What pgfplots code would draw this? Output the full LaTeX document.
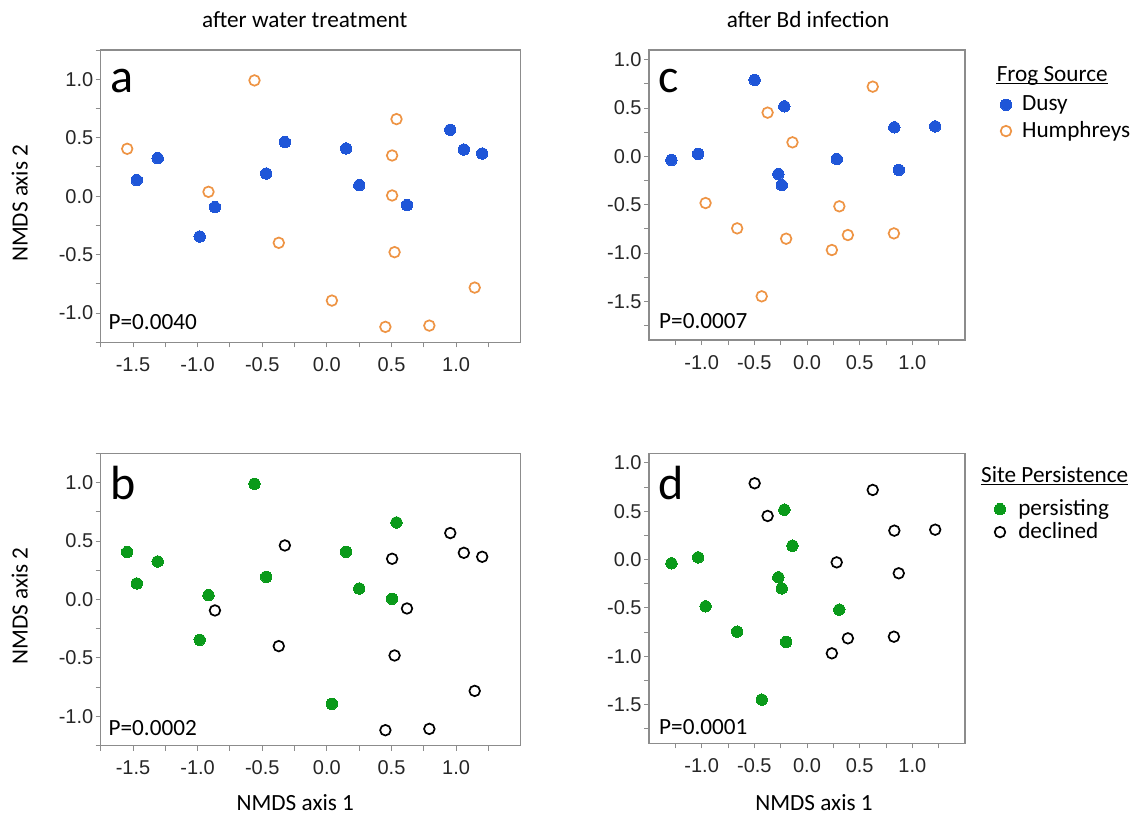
\documentclass[border=0pt]{standalone}
\usepackage{pgfplots}
\pgfplotsset{compat=1.18}
\usepackage{fontspec}
\setmainfont{Carlito}
\newfontfamily\arialfont{Liberation Sans}
\definecolor{dusy}{HTML}{1F56D8}
\definecolor{hump}{HTML}{EE9444}
\definecolor{pers}{HTML}{0A9A1A}
\definecolor{axgray}{HTML}{8C8C8C}
\newcommand{\lab}{\fontsize{11.6}{13}\selectfont}
\pgfplotsset{
 nmds/.style={
  scale only axis,
  anchor=north west,
  axis line style={draw=axgray, line width=0.6pt},
  tick align=outside,
  tick pos=left,
  major tick length=2.5pt, minor tick length=2.5pt,
  every tick/.style={draw=axgray, line width=0.5pt},
  tick label style={font=\arialfont\fontsize{10}{12}\selectfont, text=black!85},
  /pgf/number format/assume math mode=true,
  /pgf/number format/fixed,
  /pgf/number format/fixed zerofill,
  /pgf/number format/precision=1,
  xticklabel style={inner sep=0pt, yshift=-5pt},
  yticklabel style={inner sep=0pt, xshift=-1pt},
  clip=false,
  legend cell align=left,
 },
 big/.style={width=210pt, height=146.15pt, xmin=-1.75, xmax=1.5, ymin=-1.25, ymax=1.25,
   xtick={-1.5,-1,-0.5,0,0.5,1}, minor xtick={-1.75,-1.25,-0.75,-0.25,0.25,0.75,1.25},
   ytick={-1,-0.5,0,0.5,1}, minor ytick={-1.25,-0.75,-0.25,0.25,0.75,1.25}},
 small/.style={width=158pt, height=145pt, xmin=-1.5, xmax=1.5, ymin=-1.9, ymax=1.1,
   xtick={-1,-0.5,0,0.5,1}, minor xtick={-1.25,-0.75,-0.25,0.25,0.75,1.25},
   ytick={-1.5,-1,-0.5,0,0.5,1}, minor ytick={-1.75,-1.25,-0.75,-0.25,0.25,0.75}},
 fillmark/.style={only marks, mark=*, mark size=2.85pt, mark options={draw=#1, fill=#1, line width=0pt},
   legend image code/.code={\draw[##1] plot coordinates {(0pt,0pt)};}},
 openmark/.style={only marks, mark=o, mark size=2.65pt, mark options={draw=#1, line width=0.85pt},
   legend image code/.code={\draw[##1] plot coordinates {(0pt,0pt)};}},
}
\begin{document}
\begin{tikzpicture}
\useasboundingbox (0,0) rectangle (571.5pt,-408pt);
% ---------- a ----------
\begin{axis}[nmds, big, at={(50.35pt,-25pt)}]
\addplot[fillmark=dusy] coordinates {
(-1.471,0.137) (-1.309,0.325) (-0.984,-0.345) (-0.866,-0.094) (-0.469,0.194) (-0.325,0.462)
(0.149,0.408) (0.251,0.094) (0.620,-0.077) (0.955,0.568) (1.060,0.399) (1.202,0.365)};
\addplot[openmark=hump] coordinates {
(-1.545,0.405) (-0.916,0.037) (-0.560,0.990) (-0.372,-0.399) (0.039,-0.893) (0.453,-1.118)
(0.505,0.348) (0.505,0.006) (0.539,0.659) (0.524,-0.479) (0.793,-1.107) (1.144,-0.782)};
\end{axis}
% ---------- b ----------
\begin{axis}[nmds, big, at={(50.35pt,-226.65pt)}]
\addplot[fillmark=pers] coordinates {
(-1.545,0.405) (-1.471,0.137) (-1.309,0.325) (-0.916,0.037) (-0.984,-0.345) (-0.560,0.990)
(-0.469,0.194) (0.149,0.408) (0.251,0.094) (0.539,0.659) (0.505,0.006) (0.039,-0.893)};
\addplot[openmark=black] coordinates {
(-0.866,-0.094) (-0.325,0.462) (-0.372,-0.399) (0.505,0.348) (0.620,-0.077) (0.524,-0.479)
(0.955,0.568) (1.060,0.399) (1.202,0.365) (1.144,-0.782) (0.453,-1.118) (0.793,-1.107)};
\end{axis}
% ---------- c ----------
\begin{axis}[nmds, small, at={(324.5pt,-25pt)},
  legend style={at={(axis description cs:1.1117,0.842)}, anchor=north west, draw=none, fill=none,
    inner sep=0pt, outer sep=0pt, row sep=3.9pt, font=\lab,
    nodes={inner sep=0pt},
    /tikz/every odd column/.append style={column sep=5.2pt}}]
\addplot[fillmark=dusy] coordinates {
(-1.287,-0.038) (-1.034,0.024) (-0.497,0.790) (-0.215,0.517) (-0.272,-0.183) (-0.240,-0.297)
(0.282,-0.028) (0.829,0.300) (1.217,0.310) (0.871,-0.141)};
\addlegendentry{Dusy}
\addplot[openmark=hump] coordinates {
(-0.374,0.452) (-0.138,0.145) (0.624,0.721) (-0.963,-0.483) (-0.663,-0.745) (-0.198,-0.852)
(-0.430,-1.448) (0.236,-0.969) (0.307,-0.517) (0.388,-0.814) (0.825,-0.797)};
\addlegendentry{Humphreys}
\end{axis}
% ---------- d ----------
\begin{axis}[nmds, small, at={(324.5pt,-226.65pt)},
  legend style={at={(axis description cs:1.0927,0.840)}, anchor=north west, draw=none, fill=none,
    inner sep=0pt, outer sep=0pt, row sep=1.9pt, font=\lab,
    nodes={inner sep=0pt},
    /tikz/every odd column/.append style={column sep=6.3pt}}]
\addplot[fillmark=pers] coordinates {
(-1.287,-0.038) (-1.034,0.024) (-0.963,-0.483) (-0.663,-0.745) (-0.430,-1.448) (-0.215,0.517)
(-0.272,-0.183) (-0.240,-0.297) (-0.138,0.145) (-0.198,-0.852) (0.307,-0.517)};
\addlegendentry{persisting}
\addplot[openmark=black] coordinates {
(-0.497,0.790) (-0.374,0.452) (0.282,-0.028) (0.624,0.721) (0.829,0.300) (1.217,0.310)
(0.871,-0.141) (0.236,-0.969) (0.388,-0.814) (0.825,-0.797)};
\addlegendentry{declined}
\end{axis}
% ---------- text ----------
\begin{scope}[every node/.style={inner sep=0pt, font=\lab}]
\node[anchor=base] at (152.35pt,-13.65pt) {after water treatment};
\node[anchor=base] at (404pt,-13.65pt) {after Bd infection};
\node[rotate=90, anchor=base] at (13.85pt,-101.65pt) {NMDS axis 2};
\node[rotate=90, anchor=base] at (13.85pt,-303pt) {NMDS axis 2};
\node[anchor=base] at (147.65pt,-405.35pt) {NMDS axis 1};
\node[anchor=base] at (407pt,-405.35pt) {NMDS axis 1};
\node[anchor=base west, font=\fontsize{24}{26}\selectfont] at (54.85pt,-46pt) {a};
\node[anchor=base west, font=\fontsize{24}{26}\selectfont] at (54.85pt,-249.65pt) {b};
\node[anchor=base west, font=\fontsize{24}{26}\selectfont] at (329pt,-46pt) {c};
\node[anchor=base west, font=\fontsize{24}{26}\selectfont] at (329pt,-249.65pt) {d};
\node[anchor=base west] at (54.1pt,-164.65pt) {P=0.0040};
\node[anchor=base west] at (54.1pt,-367.8pt) {P=0.0002};
\node[anchor=base west] at (329.4pt,-164.2pt) {P=0.0007};
\node[anchor=base west] at (329.4pt,-367.15pt) {P=0.0001};
\node[anchor=base west] (t1) at (498.2pt,-40.85pt) {Frog Source};
\draw[line width=0.7pt] ([yshift=-1pt]t1.base west) -- ([yshift=-1pt]t1.base east);
\node[anchor=base west] (t2) at (490.4pt,-241.15pt) {Site Persistence};
\draw[line width=0.7pt] ([yshift=-1pt]t2.base west) -- ([yshift=-1pt]t2.base east);
\end{scope}
\end{tikzpicture}
\end{document}
